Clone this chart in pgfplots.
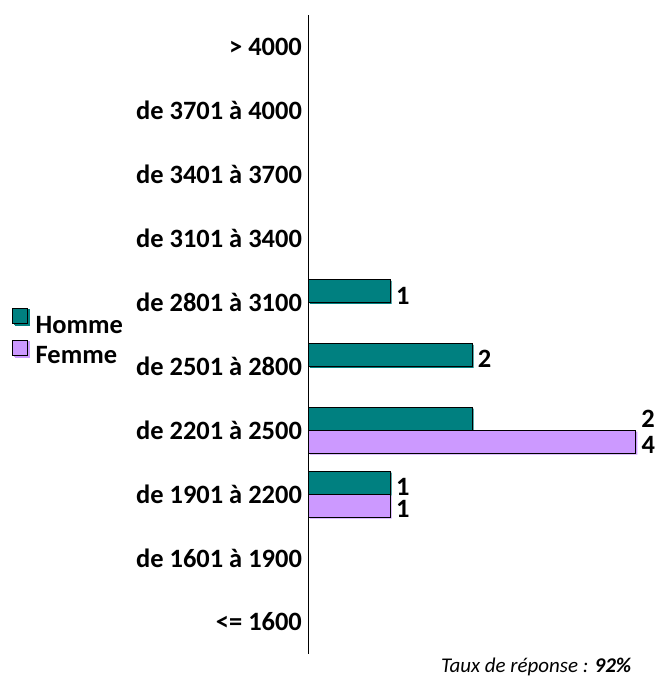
\documentclass[border=0pt]{standalone}
\usepackage{pgfplots}
\pgfplotsset{compat=1.18}
\usepackage{fontspec}
\setmainfont{Carlito}
\definecolor{homme}{HTML}{008080}
\definecolor{femme}{HTML}{CC99FF}
\newcommand{\lbl}{\fontsize{26.5}{30}\selectfont\bfseries}
\begin{document}
\begin{tikzpicture}
\begin{axis}[
  name=ax,
  scale only axis, width=328pt, height=640pt,
  xmin=0, xmax=4, ymin=-0.5, ymax=9.5,
  axis x line=none, axis y line*=left,
  axis line style={-, black, line width=0.8pt},
  ytick={0,...,9},
  yticklabels={{<= 1600},{de 1601 à 1900},{de 1901 à 2200},{de 2201 à 2500},{de 2501 à 2800},{de 2801 à 3100},{de 3101 à 3400},{de 3401 à 3700},{de 3701 à 4000},{> 4000}},
  major tick length=0pt,
  yticklabel style={font=\lbl, xshift=-3pt},
  bar width=23pt,
  clip=false,
  legend style={at={(-0.9055,0.542)}, anchor=north west, draw=none, fill=none, inner sep=0pt, font=\lbl, row sep=4pt, nodes={inner sep=1pt}},
  legend cell align=left,
]
\addplot[xbar, bar shift=11.5pt, fill=homme, draw=black, line width=0.6pt,
  preaction={fill=homme, draw=none, transform canvas={shift={(1.5pt,-1.5pt)}}},
  nodes near coords, point meta=explicit symbolic,
  nodes near coords style={anchor=west, font=\lbl, inner sep=0pt, xshift=5.5pt, yshift=7pt, text=black},
  legend image code/.code={\fill[homme] (1.5pt,1pt) rectangle (16.5pt,16pt);\draw[fill=homme, draw=black, line width=0.6pt] (0pt,2.5pt) rectangle (15pt,17.5pt);\path (22pt,0pt);}]
  table[meta=lab] {
x y lab
1 5 1
2 4 2
2 3 {}
1 2 1
};
\addlegendentry{Homme}
\addplot[xbar, bar shift=-11.5pt, fill=femme, draw=black, line width=0.6pt,
  preaction={fill=femme, draw=none, transform canvas={shift={(1.5pt,-1.5pt)}}},
  nodes near coords, point meta=explicit symbolic,
  nodes near coords style={anchor=west, font=\lbl, inner sep=0pt, xshift=5.5pt, yshift=-15pt, text=black},
  legend image code/.code={\fill[femme] (1.5pt,-0.5pt) rectangle (16.5pt,14.5pt);\draw[fill=femme, draw=black, line width=0.6pt] (0pt,1pt) rectangle (15pt,16pt);\path (22pt,0pt);}]
  table[meta=lab] {
x y lab
4 3 4
1 2 1
};
\addlegendentry{Femme}
\addplot[draw=none, mark=none, forget plot,
  nodes near coords, point meta=explicit symbolic,
  nodes near coords style={anchor=west, font=\lbl, inner sep=0pt, xshift=5.5pt, yshift=11.5pt, text=black}]
  table[meta=lab] {
x y lab
4 3 2
};
\node[anchor=east, font=\fontsize{21}{24}\selectfont\itshape] at (rel axis cs:0.997,-0.0203) {Taux de réponse : \textbf{92\%}};
\end{axis}
\path (ax.south west) ++(-309pt,-24pt) rectangle ++(657pt,679pt);
\end{tikzpicture}
\end{document}
